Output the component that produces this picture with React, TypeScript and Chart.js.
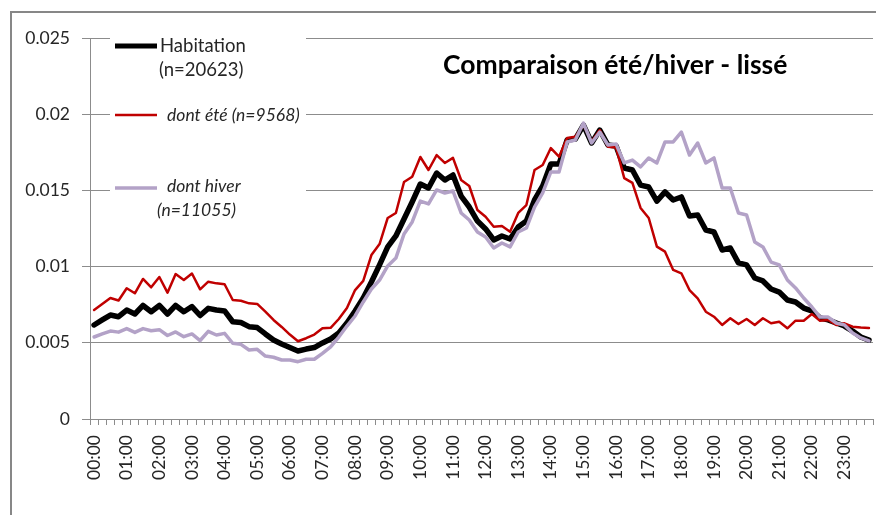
import React, { useEffect, useRef } from 'react';
import { Chart, registerables } from 'chart.js';

Chart.register(...registerables);

// Quarter-hour categories
const categories = [
  '00:00','00:15','00:30','00:45','01:00','01:15','01:30','01:45',
  '02:00','02:15','02:30','02:45','03:00','03:15','03:30','03:45',
  '04:00','04:15','04:30','04:45','05:00','05:15','05:30','05:45',
  '06:00','06:15','06:30','06:45','07:00','07:15','07:30','07:45',
  '08:00','08:15','08:30','08:45','09:00','09:15','09:30','09:45',
  '10:00','10:15','10:30','10:45','11:00','11:15','11:30','11:45',
  '12:00','12:15','12:30','12:45','13:00','13:15','13:30','13:45',
  '14:00','14:15','14:30','14:45','15:00','15:15','15:30','15:45',
  '16:00','16:15','16:30','16:45','17:00','17:15','17:30','17:45',
  '18:00','18:15','18:30','18:45','19:00','19:15','19:30','19:45',
  '20:00','20:15','20:30','20:45','21:00','21:15','21:30','21:45',
  '22:00','22:15','22:30','22:45','23:00','23:15','23:30','23:45',
];

// Tick labels shown on the x axis
const hourLabels = [
  '00:00','01:00','02:00','03:00','04:00','05:00','06:00','07:00',
  '08:00','09:00','10:00','11:00','12:00','13:00','14:00','15:00',
  '16:00','17:00','18:00','19:00','20:00','21:00','22:00','23:00',
];

const yTickLabels = ['0', '0.005', '0.01', '0.015', '0.02', '0.025'];

const habitation = [
  0.00617,0.00650,0.00682,0.00671,0.00715,0.00689,0.00745,0.00704,
  0.00745,0.00689,0.00745,0.00704,0.00738,0.00679,0.00726,0.00715,
  0.00709,0.00638,0.00633,0.00606,0.00600,0.00558,0.00518,0.00492,
  0.00469,0.00446,0.00459,0.00469,0.00499,0.00525,0.00564,0.00630,
  0.00709,0.00794,0.00899,0.01011,0.01129,0.01201,0.01312,0.01424,
  0.01542,0.01516,0.01614,0.01568,0.01601,0.01463,0.01391,0.01299,
  0.01247,0.01175,0.01201,0.01181,0.01260,0.01299,0.01437,0.01529,
  0.01673,0.01673,0.01831,0.01837,0.01929,0.01811,0.01896,0.01798,
  0.01791,0.01647,0.01634,0.01535,0.01522,0.01430,0.01490,0.01437,
  0.01457,0.01332,0.01339,0.01240,0.01227,0.01109,0.01122,0.01024,
  0.01011,0.00925,0.00906,0.00853,0.00833,0.00781,0.00768,0.00728,
  0.00709,0.00663,0.00650,0.00630,0.00610,0.00577,0.00538,0.00518,
];

const ete = [
  0.00715,0.00755,0.00794,0.00778,0.00858,0.00825,0.00919,0.00864,
  0.00932,0.00829,0.00951,0.00912,0.00955,0.00851,0.00901,0.00890,
  0.00884,0.00781,0.00776,0.00759,0.00755,0.00704,0.00650,0.00604,
  0.00554,0.00510,0.00530,0.00554,0.00595,0.00598,0.00656,0.00728,
  0.00846,0.00906,0.01076,0.01148,0.01319,0.01352,0.01555,0.01590,
  0.01719,0.01634,0.01732,0.01680,0.01713,0.01568,0.01529,0.01371,
  0.01327,0.01262,0.01266,0.01229,0.01352,0.01404,0.01634,0.01667,
  0.01778,0.01721,0.01844,0.01852,0.01929,0.01820,0.01896,0.01787,
  0.01781,0.01581,0.01549,0.01385,0.01319,0.01131,0.01098,0.00978,
  0.00956,0.00846,0.00792,0.00704,0.00671,0.00617,0.00661,0.00623,
  0.00656,0.00617,0.00661,0.00628,0.00638,0.00595,0.00645,0.00645,
  0.00689,0.00645,0.00650,0.00617,0.00628,0.00606,0.00600,0.00597,
];

const hiver = [
  0.00538,0.00558,0.00577,0.00570,0.00593,0.00568,0.00593,0.00579,
  0.00586,0.00548,0.00571,0.00540,0.00558,0.00515,0.00575,0.00551,
  0.00562,0.00497,0.00490,0.00453,0.00457,0.00413,0.00405,0.00387,
  0.00387,0.00376,0.00392,0.00392,0.00431,0.00474,0.00538,0.00610,
  0.00676,0.00768,0.00853,0.00912,0.01004,0.01056,0.01214,0.01293,
  0.01430,0.01411,0.01503,0.01483,0.01496,0.01352,0.01306,0.01227,
  0.01194,0.01122,0.01155,0.01129,0.01227,0.01253,0.01391,0.01483,
  0.01621,0.01621,0.01818,0.01831,0.01942,0.01811,0.01883,0.01798,
  0.01804,0.01680,0.01699,0.01654,0.01713,0.01680,0.01818,0.01818,
  0.01883,0.01732,0.01811,0.01680,0.01713,0.01516,0.01516,0.01352,
  0.01339,0.01161,0.01129,0.01030,0.01011,0.00912,0.00860,0.00794,
  0.00735,0.00669,0.00669,0.00630,0.00617,0.00564,0.00532,0.00512,
];

const seriesLegend = [
  ['Habitation', '(n=20623)'],
  [' dont été (n=9568)'],
  ['dont hiver', '(n=11055)'],
];
const chartTitle = 'Comparaison été/hiver - lissé';

const BLACK = '#000000';
const RED = '#c00000';
const LAVENDER = '#b3a2c7';
const GRID = '#8c8c8c';
const TEXT = '#262626';
const FONT = 'Lato, "Open Sans", sans-serif';

const overlayPlugin = {
  id: 'overlay',
  afterDraw(chart: any) {
    const ctx = chart.ctx as CanvasRenderingContext2D;
    ctx.save();
    // legend background
    ctx.fillStyle = '#ffffff';
    ctx.fillRect(110, 27, 196, 196);
    const sym = (y: number, color: string, w: number) => {
      ctx.strokeStyle = color;
      ctx.lineWidth = w;
      ctx.lineCap = 'butt';
      ctx.beginPath();
      ctx.moveTo(115, y);
      ctx.lineTo(157, y);
      ctx.stroke();
    };
    sym(46, BLACK, 5);
    sym(115, RED, 2.5);
    sym(188, LAVENDER, 3.5);
    ctx.fillStyle = TEXT;
    ctx.textBaseline = 'middle';
    ctx.textAlign = 'left';
    ctx.font = `18.5px ${FONT}`;
    ctx.fillText(seriesLegend[0][0], 160, 46);
    ctx.fillText(seriesLegend[0][1], 159, 70);
    ctx.font = `italic 17.5px ${FONT}`;
    ctx.fillText(seriesLegend[1][0], 163, 115);
    ctx.fillText(seriesLegend[2][0], 167, 186);
    ctx.fillText(seriesLegend[2][1], 157, 210);
    // title
    ctx.fillStyle = '#000000';
    ctx.font = `bold 26.5px ${FONT}`;
    ctx.textBaseline = 'alphabetic';
    ctx.fillText(chartTitle, 443, 74);
    ctx.restore();
  },
};

export default function App() {
  const canvasRef = useRef<HTMLCanvasElement | null>(null);

  useEffect(() => {
    const canvas = canvasRef.current;
    if (!canvas) return;
    const chart = new Chart(canvas, {
      type: 'line',
      data: {
        labels: categories,
        datasets: [
          {
            label: seriesLegend[0].join(' '),
            data: habitation,
            borderColor: BLACK,
            borderWidth: 5.5,
            order: 3,
          },
          {
            label: seriesLegend[1].join(' ').trim(),
            data: ete,
            borderColor: RED,
            borderWidth: 2.5,
            order: 2,
          },
          {
            label: seriesLegend[2].join(' '),
            data: hiver,
            borderColor: LAVENDER,
            borderWidth: 3.5,
            order: 1,
          },
        ],
      },
      options: {
        responsive: false,
        animation: false,
        layout: { padding: { left: 0, top: 38, right: 10, bottom: 16 } },
        elements: {
          point: { radius: 0, hoverRadius: 0 },
          line: { tension: 0, borderJoinStyle: 'round', borderCapStyle: 'round', fill: false },
        },
        plugins: {
          legend: { display: false },
          tooltip: { enabled: false },
          title: { display: false },
        },
        scales: {
          x: {
            type: 'category',
            offset: true,
            grid: {
              offset: true,
              drawOnChartArea: false,
              drawTicks: true,
              tickLength: 6,
              color: GRID,
              lineWidth: 1,
            },
            border: { display: true, color: GRID, width: 1 },
            ticks: {
              autoSkip: false,
              maxRotation: 90,
              minRotation: 90,
              padding: 10,
              color: TEXT,
              font: { family: FONT, size: 17.5 },
              callback: (_v: any, index: number) =>
                hourLabels.includes(categories[index]) ? categories[index] : '',
            },
            afterFit: (s: any) => {
              s.height = 80;
            },
          },
          y: {
            min: 0,
            max: 0.025,
            grid: { color: GRID, lineWidth: 1, drawTicks: true, tickLength: 8 },
            border: { display: true, color: GRID, width: 1 },
            ticks: {
              stepSize: 0.005,
              padding: 12,
              color: TEXT,
              font: { family: FONT, size: 17.5 },
              callback: (v: any) => yTickLabels[Math.round(Number(v) / 0.005)],
            },
            afterFit: (s: any) => {
              s.width = 90;
            },
          },
        },
      },
      plugins: [overlayPlugin],
    } as any);
    return () => chart.destroy();
  }, []);

  return (
    <div
      style={{
        position: 'fixed',
        left: 0,
        top: 0,
        width: 876,
        height: 515,
        overflow: 'hidden',
        background: '#ffffff',
      }}
    >
      <div
        style={{
          position: 'absolute',
          left: 10,
          top: 11,
          width: 1000,
          height: 1000,
          border: '2px solid #878787',
          boxSizing: 'border-box',
        }}
      />
      <canvas
        ref={canvasRef}
        width={900}
        height={515}
        style={{ position: 'absolute', left: 0, top: 0, width: 900, height: 515 }}
      />
    </div>
  );
}
